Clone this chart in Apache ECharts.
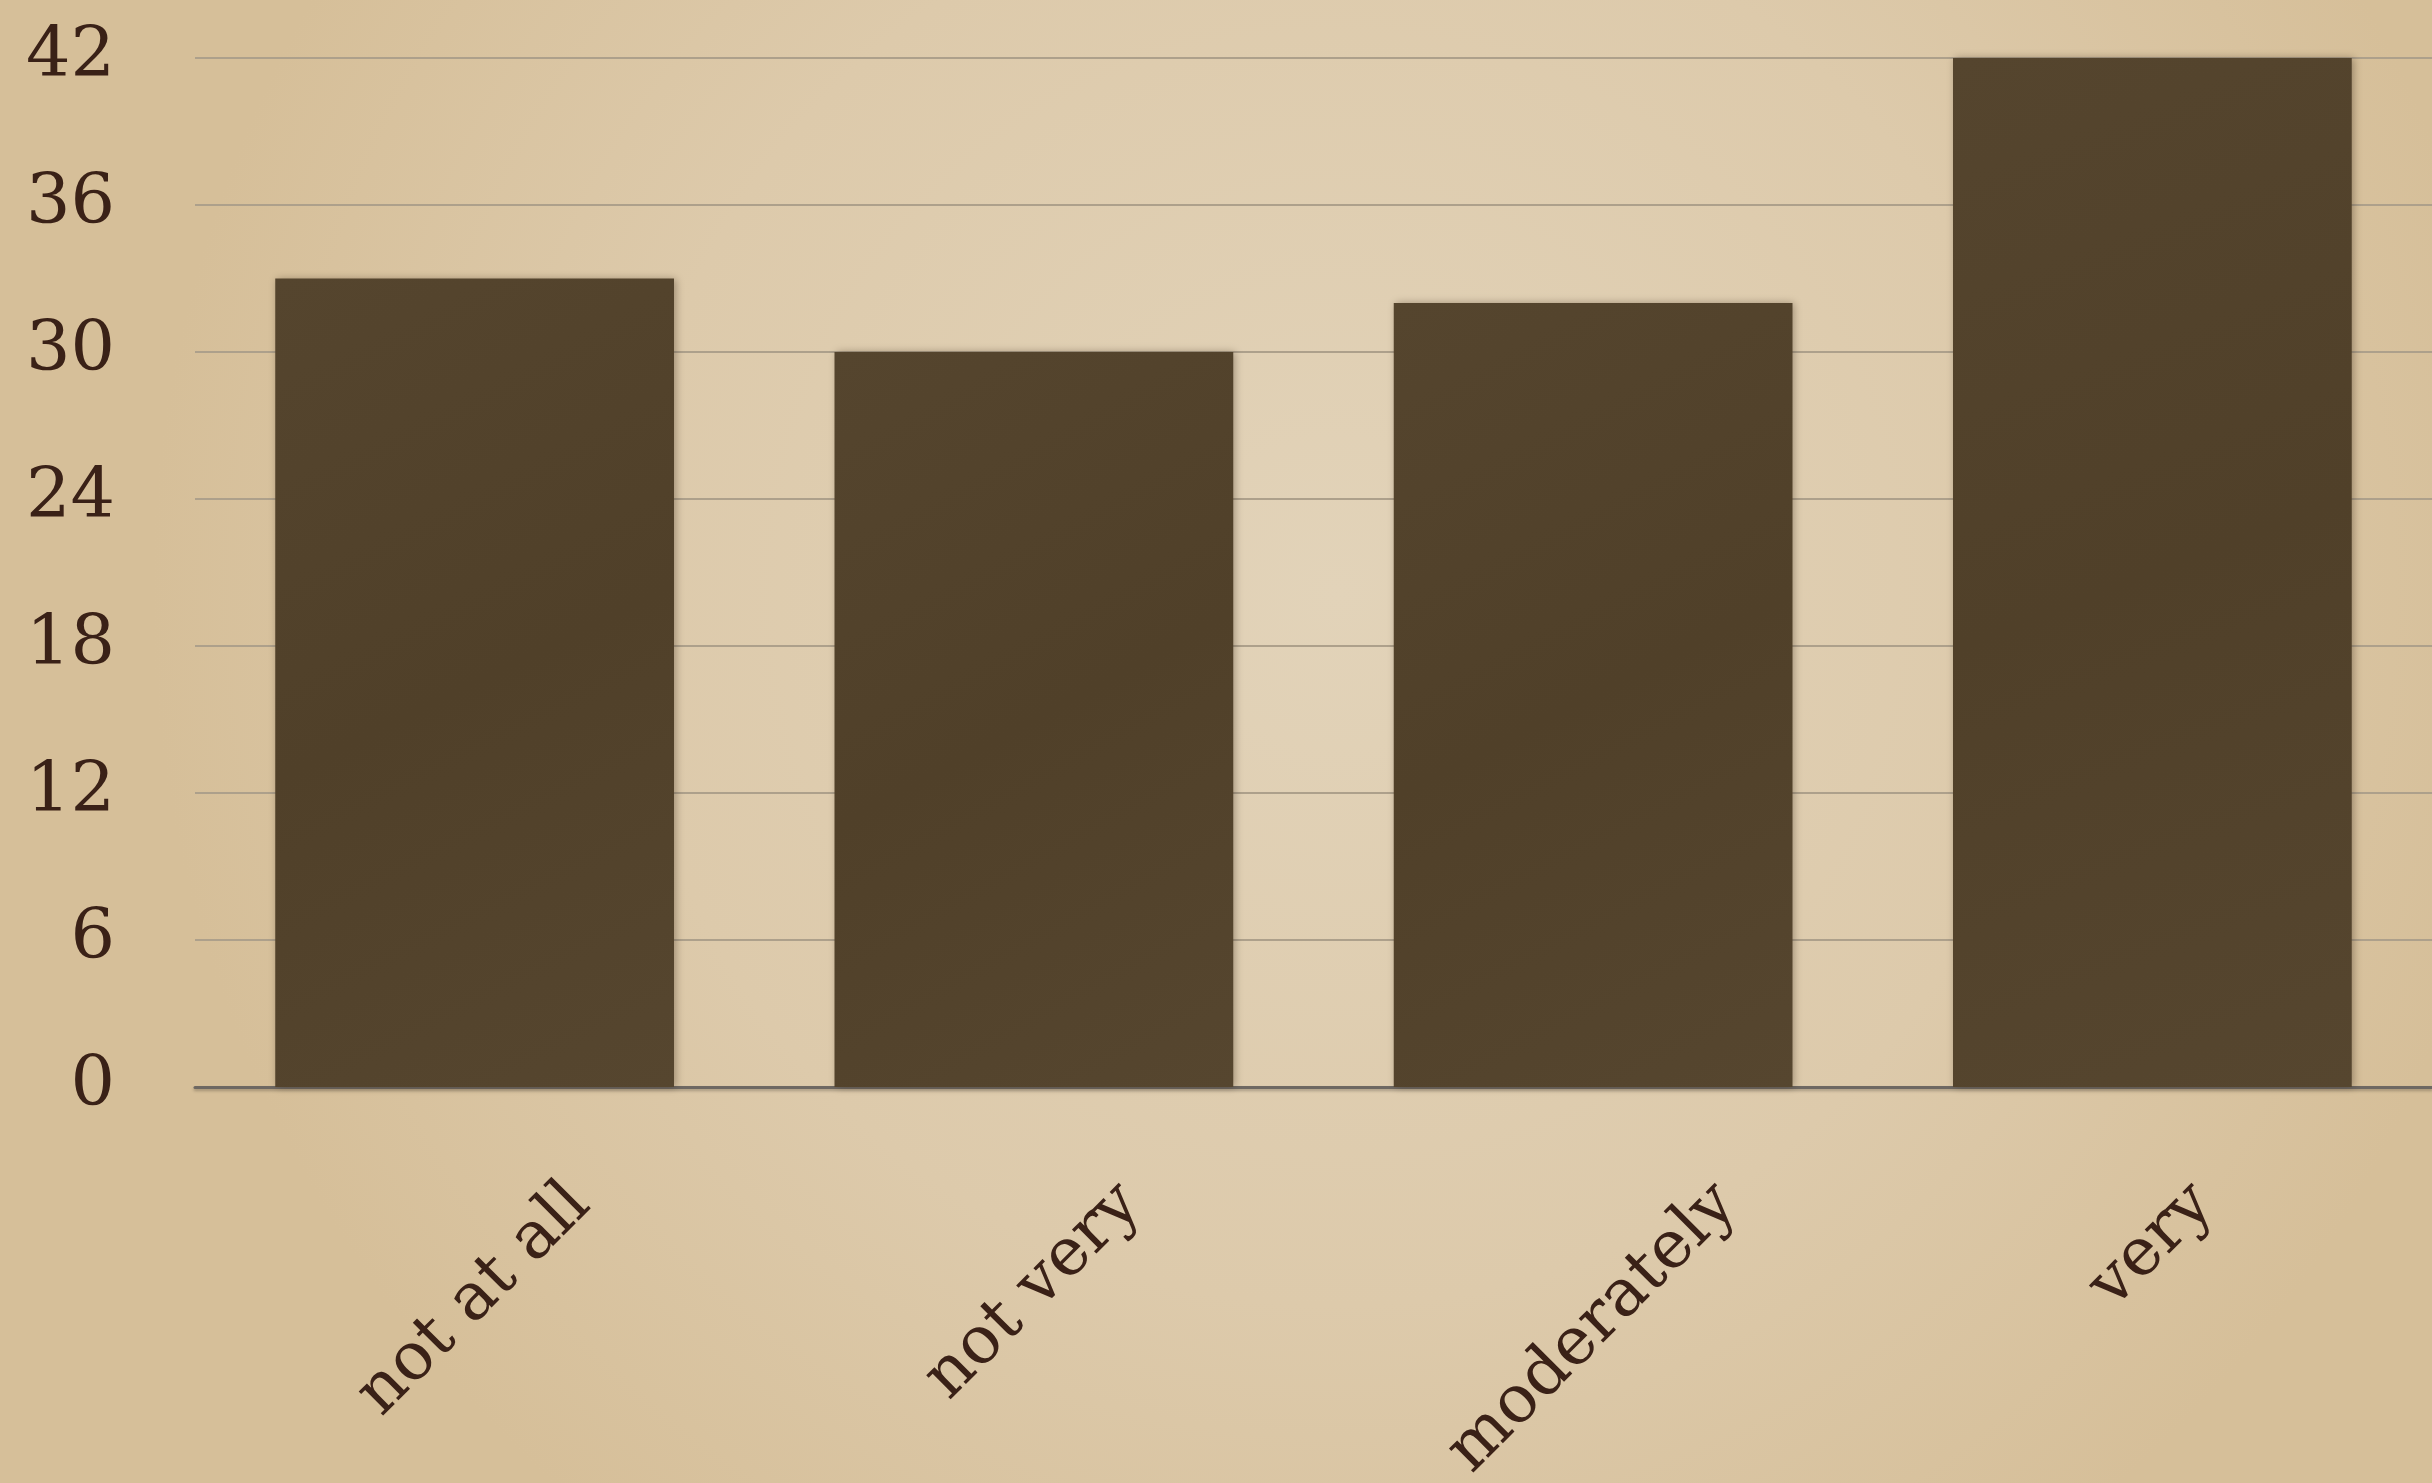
<!DOCTYPE html>
<html>
<head>
<meta charset="utf-8">
<script src="https://cdn.jsdelivr.net/npm/echarts@6/dist/echarts.min.js"></script>
<style>
html,body{margin:0;padding:0;width:2432px;height:1483px;overflow:hidden;}
#chart{width:2432px;height:1483px;}
</style>
</head>
<body>
<div id="chart"></div>
<script>
const categories = ['not at all', 'not very', 'moderately', 'very'];
const values = [33, 30, 32, 42];
const yTicks = [0, 6, 12, 18, 24, 30, 36, 42];

const FONT = '"DejaVu Serif", serif';
const XFS = 66;
const LABEL_COLOR = '#3a2117';
const ctx = document.createElement('canvas').getContext('2d');
ctx.font = XFS + 'px ' + FONT;
const glyphH = XFS * 0.8;

const chart = echarts.init(document.getElementById('chart'), null, { renderer: 'canvas' });
chart.setOption({
  animation: false,
  backgroundColor: {
    type: 'radial', x: 0.55, y: 0.4, r: 0.8,
    colorStops: [
      { offset: 0, color: '#e2d3b9' },
      { offset: 0.6, color: '#ddcaab' },
      { offset: 1, color: '#d6bf99' }
    ]
  },
  grid: { left: 195, right: 0, top: 58, bottom: 396, containLabel: false, outerBoundsMode: 'none' },
  xAxis: {
    type: 'category',
    data: categories,
    axisTick: { show: false },
    axisLine: { show: true, lineStyle: { color: '#6e6862', width: 3, shadowColor: 'rgba(0,0,0,0.25)', shadowBlur: 3, shadowOffsetY: 2 } },
    axisLabel: { show: false }
  },
  yAxis: {
    type: 'value',
    min: yTicks[0],
    max: yTicks[yTicks.length - 1],
    interval: yTicks[1] - yTicks[0],
    axisLine: { show: false },
    axisTick: { show: false },
    splitLine: { lineStyle: { color: '#ada08b', width: 2 } },
    axisLabel: {
      margin: 80,
      fontFamily: FONT,
      fontSize: 70,
      color: LABEL_COLOR,
      verticalAlign: 'middle',
      padding: [0, 0, 24, 0]
    }
  },
  series: [{
    type: 'bar',
    data: values,
    barCategoryGap: '28.7%',
    itemStyle: {
      color: {
        type: 'linear', x: 0, y: 0, x2: 1, y2: 1,
        colorStops: [
          { offset: 0, color: '#55452e' },
          { offset: 0.5, color: '#504029' },
          { offset: 1, color: '#56462f' }
        ]
      },
      shadowColor: 'rgba(40,25,10,0.35)',
      shadowBlur: 8,
      shadowOffsetX: 2,
      shadowOffsetY: 0
    }
  }, {
    type: 'custom',
    clip: false,
    silent: true,
    data: categories.map(function (c, i) { return [i, 0]; }),
    encode: { x: 0, y: 1 },
    renderItem: function (params, api) {
      const i = api.value(0);
      const p = api.coord([i, 0]);
      const text = categories[i];
      const L = ctx.measureText(text).width;
      const H = (L + glyphH) * Math.SQRT1_2;
      return {
        type: 'text',
        x: p[0],
        y: p[1] + 89 + H / 2,
        rotation: Math.PI / 4,
        style: {
          text: text,
          font: XFS + 'px ' + FONT,
          fill: LABEL_COLOR,
          align: 'center',
          verticalAlign: 'middle'
        }
      };
    }
  }]
});
</script>
</body>
</html>
